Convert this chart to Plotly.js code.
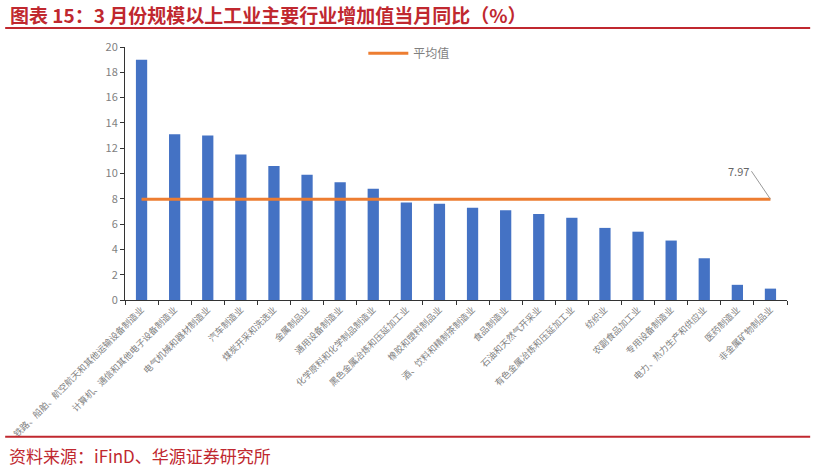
<!DOCTYPE html>
<html>
<head>
<meta charset="utf-8">
<script src="https://cdn.plot.ly/plotly-3.0.1.min.js"></script>
<style>
  html, body { margin: 0; padding: 0; background: #fff; }
  #chart { width: 815px; height: 469px; }
</style>
</head>
<body>
<div id="chart"></div>
<script>
// industries, sorted by growth
var industries = [
  '铁路、船舶、航空航天和其他运输设备制造业',
  '计算机、通信和其他电子设备制造业',
  '电气机械和器材制造业',
  '汽车制造业',
  '煤炭开采和洗选业',
  '金属制品业',
  '通用设备制造业',
  '化学原料和化学制品制造业',
  '黑色金属冶炼和压延加工业',
  '橡胶和塑料制品业',
  '酒、饮料和精制茶制造业',
  '食品制造业',
  '石油和天然气开采业',
  '有色金属冶炼和压延加工业',
  '纺织业',
  '农副食品加工业',
  '专用设备制造业',
  '电力、热力生产和供应业',
  '医药制造业',
  '非金属矿物制品业'
];

// 当月同比 (%)
var growth = [19.0, 13.1, 13.0, 11.5, 10.6, 9.9, 9.3, 8.8, 7.7, 7.6,
              7.3, 7.1, 6.8, 6.5, 5.7, 5.4, 4.7, 3.3, 1.2, 0.9];

// 平均值
var avgValue = 7.97;

var yTicks = [0, 2, 4, 6, 8, 10, 12, 14, 16, 18, 20];

var red = '#C0282F';
var grey = '#7F7F7F';

var data = [{
  type: 'bar',
  x: industries,
  y: growth,
  marker: { color: '#4472C4' },
  showlegend: false
},
{
  type: 'scatter',
  mode: 'lines',
  name: '平均值',
  x: industries,
  y: industries.map(function () { return avgValue; }),
  line: { color: '#ED7D31', width: 3 }
}];

var layout = {
  width: 815,
  height: 469,
  margin: { l: 125, r: 28, t: 47, b: 169 },
  paper_bgcolor: '#fff',
  plot_bgcolor: '#fff',
  font: { family: 'Noto Sans CJK SC, sans-serif', color: grey },
  bargap: 0.66,
  showlegend: true,
  legend: {
    x: 0.36, y: 0.975, xanchor: 'left', yanchor: 'middle',
    orientation: 'h',
    itemwidth: 40,
    font: { size: 12, color: grey },
    bgcolor: 'rgba(0,0,0,0)'
  },
  xaxis: {
    type: 'category',
    tickangle: -45,
    tickfont: { size: 9, color: grey },
    showline: true,
    linecolor: '#333',
    linewidth: 1,
    ticks: 'outside',
    tickson: 'boundaries',
    ticklen: 4,
    tickcolor: '#333',
    showgrid: false,
    zeroline: false,
    fixedrange: true
  },
  yaxis: {
    range: [0, 20],
    tickvals: yTicks,
    tickfont: { size: 11, color: grey },
    showline: true,
    linecolor: '#333',
    linewidth: 1,
    ticks: 'outside',
    ticklen: 4,
    tickcolor: '#333',
    showgrid: false,
    zeroline: false,
    fixedrange: true
  },
  shapes: [
    { type: 'line', xref: 'paper', yref: 'paper', x0: -0.181, x1: 1.035, y0: 1.075, y1: 1.075,
      line: { color: red, width: 2 } },
    { type: 'line', xref: 'paper', yref: 'paper', x0: -0.181, x1: 1.035, y0: -0.541, y1: -0.541,
      line: { color: red, width: 2 } }
  ],
  annotations: [
    { xref: 'paper', yref: 'paper', x: -0.177, y: 1.127, xanchor: 'left', yanchor: 'middle',
      showarrow: false, text: '<b>图表 15：3 月份规模以上工业主要行业增加值当月同比（%）</b>',
      font: { size: 19, color: red } },
    { xref: 'paper', yref: 'paper', x: -0.178, y: -0.613, xanchor: 'left', yanchor: 'middle',
      showarrow: false, text: '资料来源：iFinD、华源证券研究所',
      font: { size: 17, color: red } },
    { x: industries[industries.length - 1], y: avgValue,
      text: '7.97', showarrow: true, arrowhead: 0, arrowwidth: 1, arrowcolor: '#999',
      ax: -19, ay: -28, xanchor: 'right',
      font: { size: 11, color: '#666' } }
  ]
};

Plotly.newPlot('chart', data, layout, { displayModeBar: false });
</script>
</body>
</html>
